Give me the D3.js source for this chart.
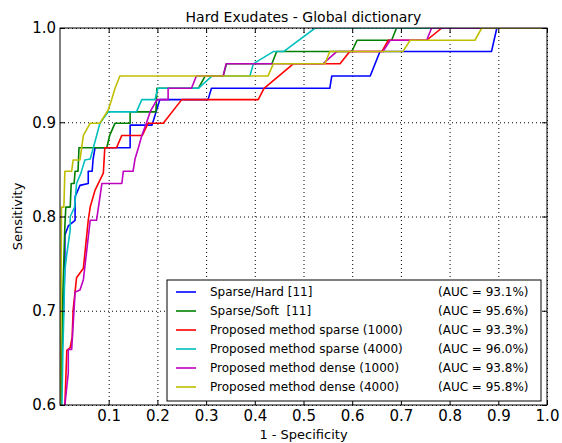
<!DOCTYPE html>
<html>
<head>
<meta charset="utf-8">
<script src="https://cdn.jsdelivr.net/npm/d3@7"></script>
<style>
  body { margin: 0; background: #fff; }
  text { font-family: "DejaVu Sans", sans-serif; }
</style>
</head>
<body>
<svg id="chart" width="562" height="443"></svg>
<script>
// ROC points [1 - specificity, sensitivity]
var sparseHard = [[0,0.55],[0.004,0.65],[0.006,0.68],[0.010,0.75],[0.010,0.78],[0.017,0.79],[0.031,0.796],[0.031,0.821],[0.041,0.833],[0.058,0.835],[0.058,0.848],[0.066,0.848],[0.068,0.861],[0.072,0.873],[0.144,0.873],[0.144,0.897],[0.189,0.897],[0.205,0.924],[0.304,0.924],[0.311,0.936],[0.554,0.936],[0.558,0.949],[0.637,0.949],[0.647,0.962],[0.657,0.975],[0.886,0.975],[0.897,1.0],[1,1]];
var sparseSoft = [[0,0.55],[0.003,0.62],[0.006,0.72],[0.010,0.79],[0.012,0.81],[0.021,0.81],[0.023,0.835],[0.029,0.835],[0.031,0.848],[0.037,0.848],[0.039,0.873],[0.096,0.873],[0.102,0.886],[0.113,0.899],[0.144,0.899],[0.144,0.911],[0.197,0.911],[0.199,0.936],[0.284,0.936],[0.298,0.949],[0.335,0.949],[0.342,0.962],[0.435,0.962],[0.445,0.975],[0.599,0.975],[0.610,0.987],[0.681,0.987],[0.691,1.0],[1,1]];
var propSparse1000 = [[0.006,0.55],[0.010,0.60],[0.014,0.658],[0.021,0.661],[0.025,0.672],[0.027,0.701],[0.034,0.735],[0.048,0.745],[0.058,0.796],[0.062,0.81],[0.072,0.828],[0.089,0.846],[0.092,0.873],[0.116,0.873],[0.127,0.886],[0.169,0.886],[0.181,0.899],[0.212,0.899],[0.250,0.924],[0.407,0.924],[0.419,0.936],[0.449,0.949],[0.479,0.962],[0.575,0.962],[0.595,0.975],[0.661,0.975],[0.674,0.987],[0.753,0.987],[0.784,1.0],[1,1]];
var propSparse4000 = [[0,0.55],[0.004,0.60],[0.006,0.66],[0.008,0.70],[0.010,0.743],[0.014,0.76],[0.021,0.786],[0.021,0.80],[0.030,0.81],[0.034,0.835],[0.043,0.846],[0.051,0.860],[0.062,0.861],[0.068,0.872],[0.082,0.899],[0.099,0.911],[0.157,0.911],[0.168,0.924],[0.195,0.924],[0.201,0.936],[0.284,0.936],[0.312,0.949],[0.390,0.949],[0.397,0.962],[0.438,0.975],[0.459,0.975],[0.524,1.0],[1,1]];
var propDense1000 = [[0.008,0.55],[0.010,0.60],[0.017,0.634],[0.017,0.659],[0.024,0.659],[0.031,0.720],[0.041,0.722],[0.048,0.733],[0.062,0.796],[0.075,0.796],[0.079,0.81],[0.086,0.835],[0.127,0.835],[0.130,0.848],[0.150,0.848],[0.154,0.861],[0.161,0.873],[0.168,0.886],[0.178,0.900],[0.185,0.911],[0.199,0.924],[0.222,0.924],[0.222,0.936],[0.270,0.936],[0.280,0.949],[0.335,0.949],[0.341,0.962],[0.540,0.962],[0.568,0.975],[0.663,0.975],[0.678,0.987],[0.753,0.987],[0.763,1.0],[1,1]];
var propDense4000 = [[0,0.55],[0.002,0.70],[0.003,0.81],[0.008,0.81],[0.010,0.848],[0.024,0.848],[0.027,0.860],[0.041,0.860],[0.048,0.886],[0.062,0.899],[0.082,0.899],[0.099,0.913],[0.106,0.924],[0.113,0.936],[0.123,0.949],[0.427,0.949],[0.438,0.962],[0.544,0.962],[0.554,0.975],[0.704,0.975],[0.719,0.987],[0.852,0.987],[0.866,1.0],[1,1]];

var seriesNames = ["Sparse/Hard [11]", "Sparse/Soft  [11]", "Proposed method sparse (1000)",
  "Proposed method sparse (4000)", "Proposed method dense (1000)", "Proposed method dense (4000)"];
var aucLabels = ["(AUC = 93.1%)", "(AUC = 95.6%)", "(AUC = 93.3%)", "(AUC = 96.0%)", "(AUC = 93.8%)", "(AUC = 95.8%)"];
var seriesColors = ["#0000ff", "#008000", "#ff0000", "#00bfbf", "#bf00bf", "#bfbf00"];
var xTicks = [0.1, 0.2, 0.3, 0.4, 0.5, 0.6, 0.7, 0.8, 0.9, 1.0];
var yTicks = [0.6, 0.7, 0.8, 0.9, 1.0];

var allSeries = [sparseHard, sparseSoft, propSparse1000, propSparse4000, propDense1000, propDense4000];

var margin = {top: 28, right: 15, bottom: 38, left: 60};
var W = 562, H = 443;
var w = W - margin.left - margin.right, h = H - margin.top - margin.bottom;

var svg = d3.select("#chart");
var g = svg.append("g").attr("transform", `translate(${margin.left},${margin.top})`);

var x = d3.scaleLinear().domain([0, 1]).range([0, w]);
var y = d3.scaleLinear().domain([0.6, 1]).range([h, 0]);

// grid
g.append("g")
  .attr("transform", `translate(0,${h})`)
  .call(d3.axisBottom(x).tickValues(xTicks).tickSize(-h).tickFormat(""))
  .call(a => a.select(".domain").remove())
  .selectAll("line").attr("stroke", "#000").attr("stroke-dasharray", "1,3");
g.append("g")
  .call(d3.axisLeft(y).tickValues(yTicks).tickSize(-w).tickFormat(""))
  .call(a => a.select(".domain").remove())
  .selectAll("line").attr("stroke", "#000").attr("stroke-dasharray", "1,3");

svg.append("defs").append("clipPath").attr("id", "clip")
  .append("rect").attr("width", w).attr("height", h);

var line = d3.line().x(d => x(d[0])).y(d => y(d[1]));

g.append("g").attr("clip-path", "url(#clip)")
  .selectAll("path")
  .data(allSeries)
  .join("path")
    .attr("d", line)
    .attr("fill", "none")
    .attr("stroke", (d, i) => seriesColors[i])
    .attr("stroke-width", 1.6)
    .attr("stroke-linejoin", "round");

// axes with inward ticks
var fs = "15px";
g.append("g")
  .attr("transform", `translate(0,${h})`)
  .call(d3.axisBottom(x).tickValues(xTicks).tickSizeInner(-5).tickSizeOuter(0).tickPadding(5).tickFormat(d3.format(".1f")))
  .call(a => a.select(".domain").remove())
  .selectAll("text").attr("font-size", fs).attr("fill", "#000");
g.append("g")
  .call(d3.axisTop(x).tickValues(xTicks).tickSizeInner(-5).tickSizeOuter(0).tickFormat(""))
  .call(a => a.select(".domain").remove());
g.append("g")
  .call(d3.axisLeft(y).tickValues(yTicks).tickSizeInner(-5).tickSizeOuter(0).tickPadding(4).tickFormat(d3.format(".1f")))
  .call(a => a.select(".domain").remove())
  .selectAll("text").attr("font-size", fs).attr("fill", "#000");
g.append("g")
  .attr("transform", `translate(${w},0)`)
  .call(d3.axisRight(y).tickValues(yTicks).tickSizeInner(-5).tickSizeOuter(0).tickFormat(""))
  .call(a => a.select(".domain").remove());

g.append("rect")
  .attr("width", w).attr("height", h)
  .attr("fill", "none").attr("stroke", "#000").attr("stroke-width", 1);

// titles
svg.append("text")
  .attr("x", margin.left + w / 2).attr("y", 22)
  .attr("text-anchor", "middle").attr("font-size", "14px")
  .text("Hard Exudates - Global dictionary");
svg.append("text")
  .attr("x", margin.left + w / 2).attr("y", 439)
  .attr("text-anchor", "middle").attr("font-size", "13px")
  .text("1 - Specificity");
svg.append("text")
  .attr("transform", `translate(22,${margin.top + h / 2}) rotate(-90)`)
  .attr("text-anchor", "middle").attr("font-size", "13px")
  .text("Sensitivity");

// legend
var lg = svg.append("g").attr("transform", "translate(167,280)");
lg.append("rect")
  .attr("width", 374).attr("height", 121)
  .attr("fill", "#fff").attr("stroke", "#000").attr("stroke-width", 1);
var rows = lg.selectAll("g.row")
  .data(seriesNames)
  .join("g")
    .attr("class", "row")
    .attr("transform", (d, i) => `translate(0,${12 + i * 19})`);
rows.append("line")
  .attr("x1", 9).attr("x2", 29)
  .attr("stroke", (d, i) => seriesColors[i]).attr("stroke-width", 1.6);
rows.append("text")
  .attr("x", 43).attr("dy", "0.35em")
  .attr("font-size", "12px").style("white-space", "pre")
  .text(d => d);
rows.append("text")
  .attr("x", 271).attr("dy", "0.35em")
  .attr("font-size", "12px")
  .text((d, i) => aucLabels[i]);
</script>
</body>
</html>
